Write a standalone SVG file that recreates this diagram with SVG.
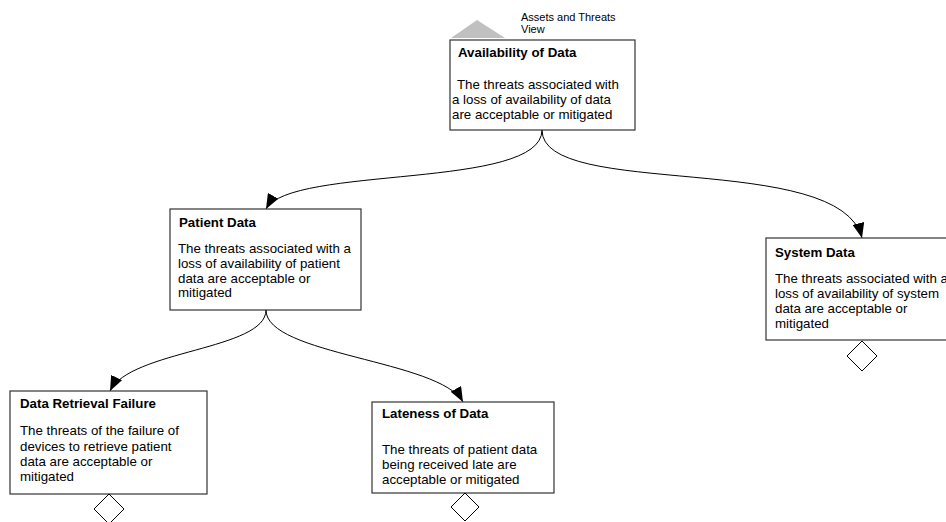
<svg xmlns="http://www.w3.org/2000/svg" width="946" height="522" viewBox="0 0 946 522">
<defs>
<marker id="arr" markerUnits="userSpaceOnUse" markerWidth="16" markerHeight="12" refX="15" refY="6" orient="auto">
<path d="M0,0 L15,6 L0,12 z" fill="#000"/>
</marker>
<style>
.box{fill:#fff;stroke:#333;stroke-width:1.2}
.t{font-family:"Liberation Sans",Arial,sans-serif;font-size:13.3px;fill:#000}
.b{font-weight:bold}
.s{font-family:"Liberation Sans",Arial,sans-serif;font-size:11px;fill:#000}
.dia{fill:#fff;stroke:#000;stroke-width:1}
.c{fill:none;stroke:#000;stroke-width:1}
</style>
</defs>
<rect width="946" height="522" fill="#fff"/>
<g id="connectors">
<path class="c" d="M542,130 C542,190 290,165 266,209" marker-end="url(#arr)"/>
<path class="c" d="M542,130 C542,200 840,150 862,238" marker-end="url(#arr)"/>
<path class="c" d="M266,310 C266,350 130,350 110,391" marker-end="url(#arr)"/>
<path class="c" d="M266,310 C266,355 440,360 463,402" marker-end="url(#arr)"/>
</g>
<g id="view">
<polygon points="451,38 477,20 505,38" fill="#c0c0c0"/>
<text class="s" x="521" y="21">Assets and Threats</text>
<text class="s" x="521" y="33">View</text>
</g>
<g id="availability">
<rect class="box" x="450" y="40" width="185" height="90"/>
<text class="t b" x="458" y="57">Availability of Data</text>
<text class="t" x="457" y="89">The threats associated with</text>
<text class="t" x="452" y="104">a loss of availability of data</text>
<text class="t" x="452" y="119">are acceptable or mitigated</text>
</g>
<g id="patient">
<rect class="box" x="170" y="209" width="191" height="101"/>
<text class="t b" x="179" y="227">Patient Data</text>
<text class="t" x="178" y="253">The threats associated with a</text>
<text class="t" x="178" y="268">loss of availability of patient</text>
<text class="t" x="178" y="283">data are acceptable or</text>
<text class="t" x="178" y="297">mitigated</text>
</g>
<g id="system">
<rect class="box" x="766" y="238" width="192" height="102"/>
<text class="t b" x="775" y="257">System Data</text>
<text class="t" x="775" y="283">The threats associated with a</text>
<text class="t" x="775" y="298">loss of availability of system</text>
<text class="t" x="775" y="313">data are acceptable or</text>
<text class="t" x="775" y="328">mitigated</text>
<polygon class="dia" points="862,341 877,356 862,371 847,356"/>
</g>
<g id="retrieval">
<rect class="box" x="10" y="391" width="197" height="103"/>
<text class="t b" x="20" y="408">Data Retrieval Failure</text>
<text class="t" x="20" y="435">The threats of the failure of</text>
<text class="t" x="20" y="451">devices to retrieve patient</text>
<text class="t" x="20" y="466">data are acceptable or</text>
<text class="t" x="20" y="481">mitigated</text>
<polygon class="dia" points="109,494 124,509 109,524 94,509"/>
</g>
<g id="lateness">
<rect class="box" x="372" y="402" width="182" height="91"/>
<text class="t b" x="382" y="418">Lateness of Data</text>
<text class="t" x="382" y="454">The threats of patient data</text>
<text class="t" x="382" y="469">being received late are</text>
<text class="t" x="382" y="484">acceptable or mitigated</text>
<polygon class="dia" points="465,493 479,507 465,521 451,507"/>
</g>
</svg>
